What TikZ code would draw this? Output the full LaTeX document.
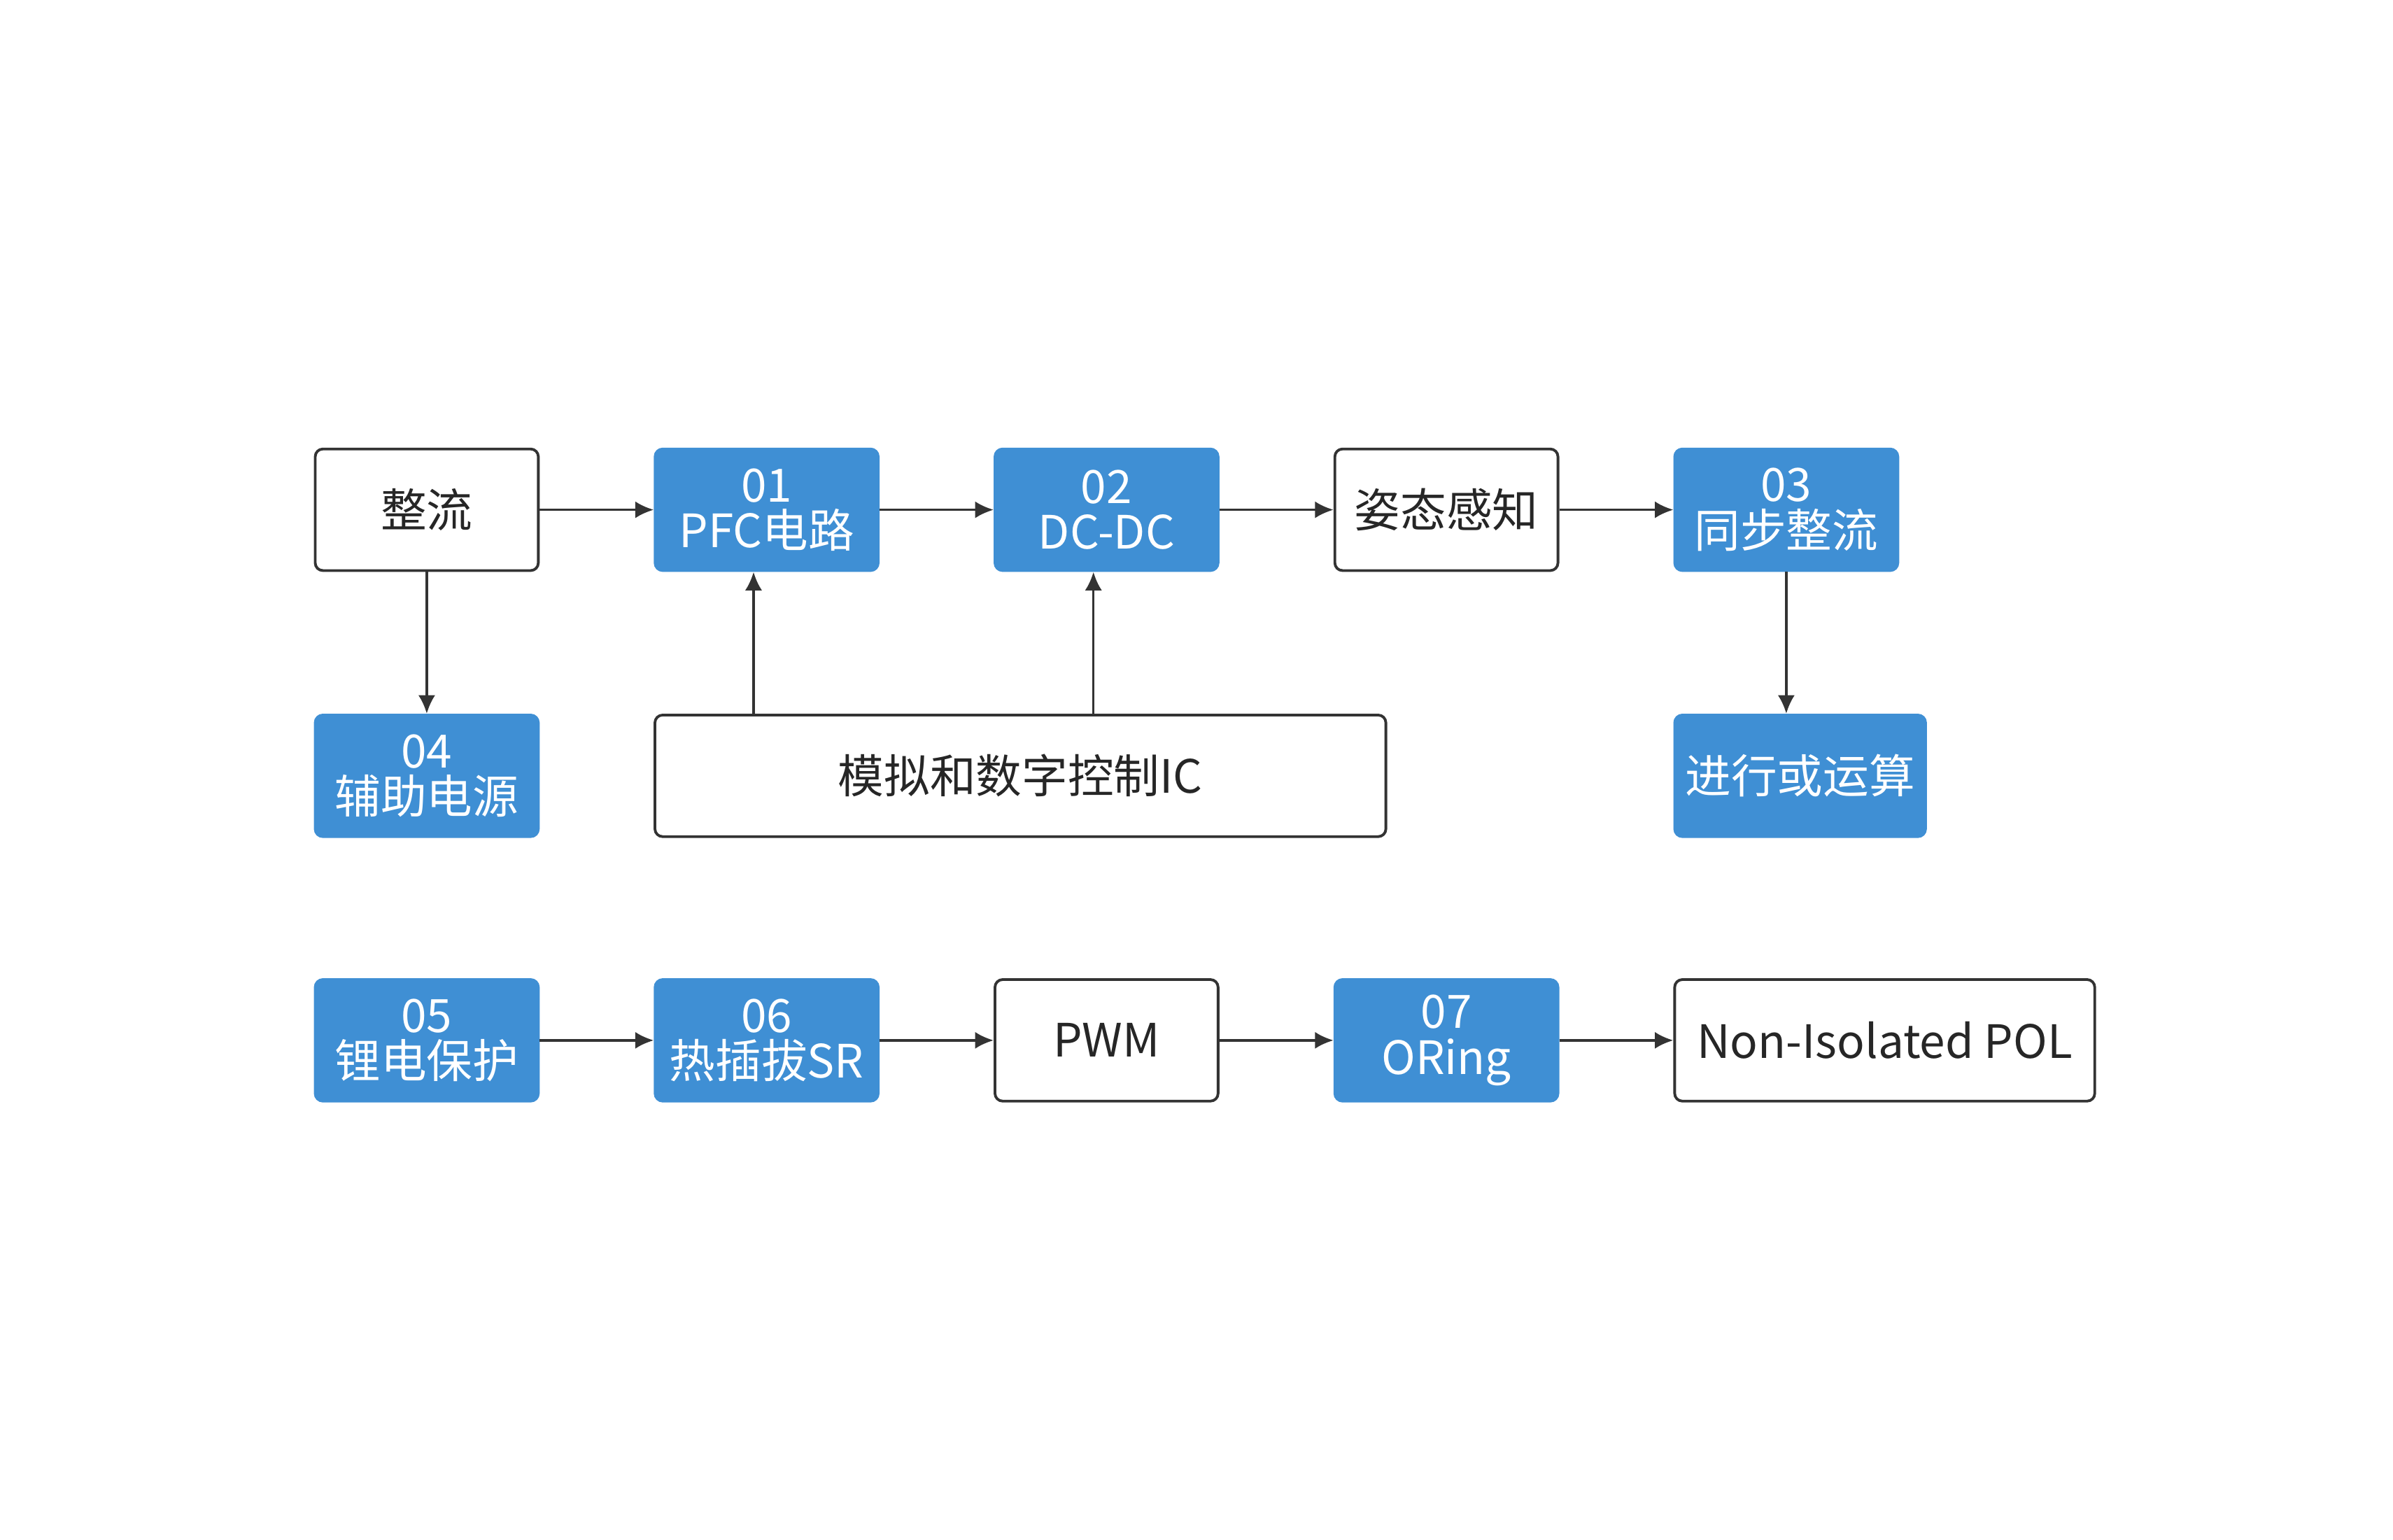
\documentclass[tikz,border=0pt]{standalone}
\usepackage{fontspec}
\setmainfont{Noto Sans CJK SC}
\usetikzlibrary{arrows.meta}
\definecolor{boxblue}{HTML}{3F8FD4}
\definecolor{edge}{HTML}{333333}
\tikzset{
  box/.style={draw=edge, line width=0.5pt, rounded corners=0.05cm, minimum height=0.79cm, minimum width=1.45cm, align=center, font=\fontsize{8.5}{8.5}\selectfont, text=black!85, inner sep=0pt},
  bluebox/.style={box, draw=boxblue, fill=boxblue, text=white},
  link/.style={draw=edge, line width=0.45pt, -{Latex[length=1.2mm,width=1.1mm]}}
}
\begin{document}
\begin{tikzpicture}[x=0.01cm, y=-0.01cm]
		%%%%% START %%%%%
		\useasboundingbox (0, 0) rectangle (1556, 1001);
		
		% first row
		\node[box] (zl) at (277.5, 331.5) {整流};
		\node[bluebox] (pfc) at (498.5, 331.5) {01\\PFC电路};
		\node[bluebox] (dcdc) at (719.5, 331.5) {02\\DC-DC};
		\node[box] (ztgz) at (940.5, 331.5) {姿态感知};
		\node[bluebox] (tbzl) at (1161.5, 331.5) {03\\同步整流};
		
		% second row
		\node[bluebox] (fzdy) at (277.5, 504.5) {04\\辅助电源};
		\node[box, minimum width=4.75cm] (ctrl) at (663.5, 504.5) {模拟和数字控制IC};
		\node[bluebox, minimum width=1.63cm] (orys) at (1170.5, 504.5) {进行或运算};
		
		% third row
		\node[bluebox] (ldbh) at (277.5, 676.5) {05\\锂电保护};
		\node[bluebox] (rcb) at (498.5, 676.5) {06\\热插拔SR};
		\node[box] (pwm) at (719.5, 676.5) {PWM};
		\node[bluebox] (oring) at (940.5, 676.5) {07\\ORing};
		\node[box, minimum width=2.73cm] (pol) at (1225.5, 676.5) {Non-Isolated POL};
		
		% connectors
		\draw[link] (zl) -- (pfc);
		\draw[link] (pfc) -- (dcdc);
		\draw[link] (dcdc) -- (ztgz);
		\draw[link] (ztgz) -- (tbzl);
		\draw[link] (zl) -- (fzdy);
		\draw[link] (tbzl.south) -- (tbzl.south |- orys.north);
		\draw[link] (ctrl.north -| 490, 0) -- (pfc.south -| 490, 0);
		\draw[link] (ctrl.north -| 711, 0) -- (dcdc.south -| 711, 0);
		\draw[link] (ldbh) -- (rcb);
		\draw[link] (rcb) -- (pwm);
		\draw[link] (pwm) -- (oring);
		\draw[link] (oring) -- (pol);
		%%%%% END %%%%%
\end{tikzpicture}
\end{document}
